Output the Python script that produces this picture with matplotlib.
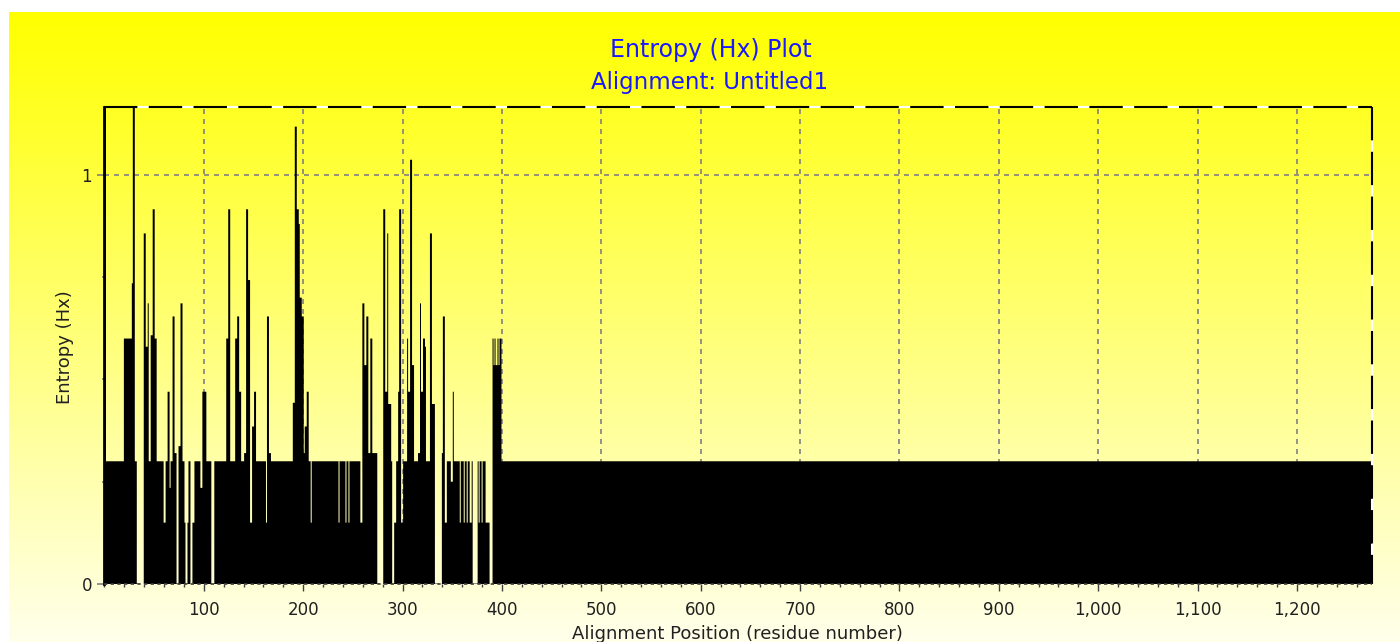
import numpy as np
import matplotlib.pyplot as plt
from matplotlib.ticker import MultipleLocator


# entropy per alignment column, read off the chart as runs:
# each value holds from its start residue up to the next start
seq_len = 1276
run_start = [0, 2, 20, 28, 29, 31, 33, 40, 42, 44, 45, 47, 49, 51, 53, 60, 62,
             64, 66, 67, 69, 71, 73, 75, 77, 79, 81, 82, 84, 85, 87, 89, 91,
             97, 99, 103, 108, 111, 123, 125, 127, 132, 134, 136, 138, 141,
             143, 145, 147, 149, 151, 153, 163, 164, 166, 168, 190, 192, 194,
             196, 197, 199, 201, 202, 204, 206, 208, 209, 236, 237, 243, 244,
             246, 247, 258, 260, 262, 264, 266, 268, 270, 275, 281, 283, 285,
             286, 289, 290, 292, 294, 296, 297, 299, 301, 305, 306, 308, 310,
             312, 316, 318, 319, 321, 323, 324, 328, 330, 333, 340, 341, 343,
             345, 349, 351, 352, 358, 359, 362, 363, 365, 366, 368, 370, 371,
             376, 377, 378, 380, 381, 384, 388, 391, 392, 393, 394, 396, 397,
             398, 400]
run_value = [1.25, 0.30, 0.60, 0.735, 1.25, 0.30, 0.0, 0.857, 0.58, 0.686, 0.30,
             0.608, 0.916, 0.60, 0.30, 0.15, 0.30, 0.47, 0.235, 0.30, 0.654,
             0.32, 0.0, 0.337, 0.686, 0.30, 0.15, 0.0, 0.15, 0.30, 0.0, 0.15,
             0.30, 0.235, 0.47, 0.30, 0.0, 0.30, 0.60, 0.916, 0.30, 0.60, 0.654,
             0.47, 0.30, 0.32, 0.916, 0.743, 0.15, 0.385, 0.47, 0.30, 0.15,
             0.654, 0.32, 0.30, 0.443, 1.118, 0.916, 0.88, 0.70, 0.654, 0.32,
             0.385, 0.47, 0.30, 0.15, 0.30, 0.15, 0.30, 0.15, 0.30, 0.15, 0.30,
             0.15, 0.686, 0.535, 0.654, 0.32, 0.60, 0.32, 0.0, 0.916, 0.47,
             0.857, 0.44, 0.30, 0.0, 0.15, 0.30, 0.47, 0.916, 0.15, 0.30, 0.60,
             0.47, 1.037, 0.535, 0.30, 0.32, 0.686, 0.47, 0.60, 0.58, 0.30,
             0.857, 0.44, 0.0, 0.32, 0.654, 0.15, 0.30, 0.25, 0.47, 0.30, 0.15,
             0.30, 0.15, 0.30, 0.15, 0.30, 0.15, 0.30, 0.0, 0.30, 0.15, 0.30,
             0.15, 0.30, 0.15, 0.0, 0.60, 0.535, 0.60, 0.535, 0.60, 0.535, 0.60,
             0.30]

x_ticks = [100, 200, 300, 400, 500, 600, 700, 800, 900, 1000, 1100, 1200]
y_ticks = [0, 1]
title_lines = ["Entropy (Hx) Plot", "Alignment: Untitled1"]
x_label = "Alignment Position (residue number)"
y_label = "Entropy (Hx)"

W, H = 1400, 642

# expand the runs into one value per column
entropy = np.zeros(seq_len)
run_end = run_start[1:] + [seq_len]
for s, e, v in zip(run_start, run_end, run_value):
    entropy[s:e] = v
edges = np.arange(seq_len + 1) - 0.5

fig = plt.figure(figsize=(W / 100, H / 100), dpi=100)
fig.patch.set_facecolor("white")

# yellow -> pale background, cropped white strip at top/left
bg = fig.add_axes([9 / W, 0, 1 - 9 / W, 1 - 12 / H])
blue = np.linspace(0, 235, 256)
grad = np.stack([np.full(256, 255.0), np.full(256, 255.0), blue], axis=1)[:, None, :] / 255
bg.imshow(grad, aspect="auto", extent=[0, 1, 0, 1])
bg.axis("off")

ax = fig.add_axes([104 / W, 1 - 584 / H, (1372 - 104) / W, (584 - 107) / H])
ax.patch.set_alpha(0)
ax.stairs(entropy, edges, fill=True, color="black", lw=0, zorder=3)
ax.set_xlim(-0.5, seq_len - 0.5)
ax.set_ylim(0, 1.166)

ax.set_xticks(x_ticks)
ax.set_xticklabels([f"{t:,}" for t in x_ticks])
ax.xaxis.set_minor_locator(MultipleLocator(20))
ax.set_yticks(y_ticks)
ax.yaxis.set_minor_locator(MultipleLocator(0.25))
ax.tick_params(axis="x", which="major", length=5, width=1, color="#404040",
               pad=7, labelsize=12, labelcolor="#202020")
ax.tick_params(axis="x", which="minor", length=2.5, width=1, color="#404040")
ax.tick_params(axis="y", which="major", length=5, width=1.2, color="#808080",
               pad=3.5, labelsize=12, labelcolor="#202020")
ax.tick_params(axis="y", which="minor", length=1.5, width=1.2, color="#808080")

ax.set_axisbelow(True)
ax.grid(True, which="major", color="#808080", linestyle=(0, (3, 3)), lw=1.2)

for s in ax.spines.values():
    s.set_visible(False)
# frame: dashed black with white gaps on top/right
frame = dict(transform=ax.transAxes, clip_on=False, zorder=5)
ax.plot([0, 1], [1, 1], color="black", gapcolor="white", ls=(0, (16, 5.5)), lw=1.5, **frame)
ax.plot([1, 1], [1, 0], color="black", gapcolor="white", ls=(0, (16, 5.5)), lw=1.5, **frame)
ax.plot([0, 0], [0, 1], color="black", lw=2, **frame)
ax.plot([0, 1], [0, 0], color="#404040", ls=(0, (2, 2)), lw=1.2, **frame)

fig.text(711 / W, 1 - 50 / H, title_lines[0], ha="center", va="center",
         color="#1a1aff", fontsize=17)
fig.text(710 / W, 1 - 82 / H, title_lines[1], ha="center", va="center",
         color="#1a1aff", fontsize=16.5)
fig.text(65 / W, 1 - 347 / H, y_label, rotation=90, ha="center", va="center",
         fontsize=13, color="#202020")
fig.text(737 / W, 1 - 634 / H, x_label, ha="center", va="center",
         fontsize=13, color="#202020")

plt.savefig("out.png", dpi=100)
